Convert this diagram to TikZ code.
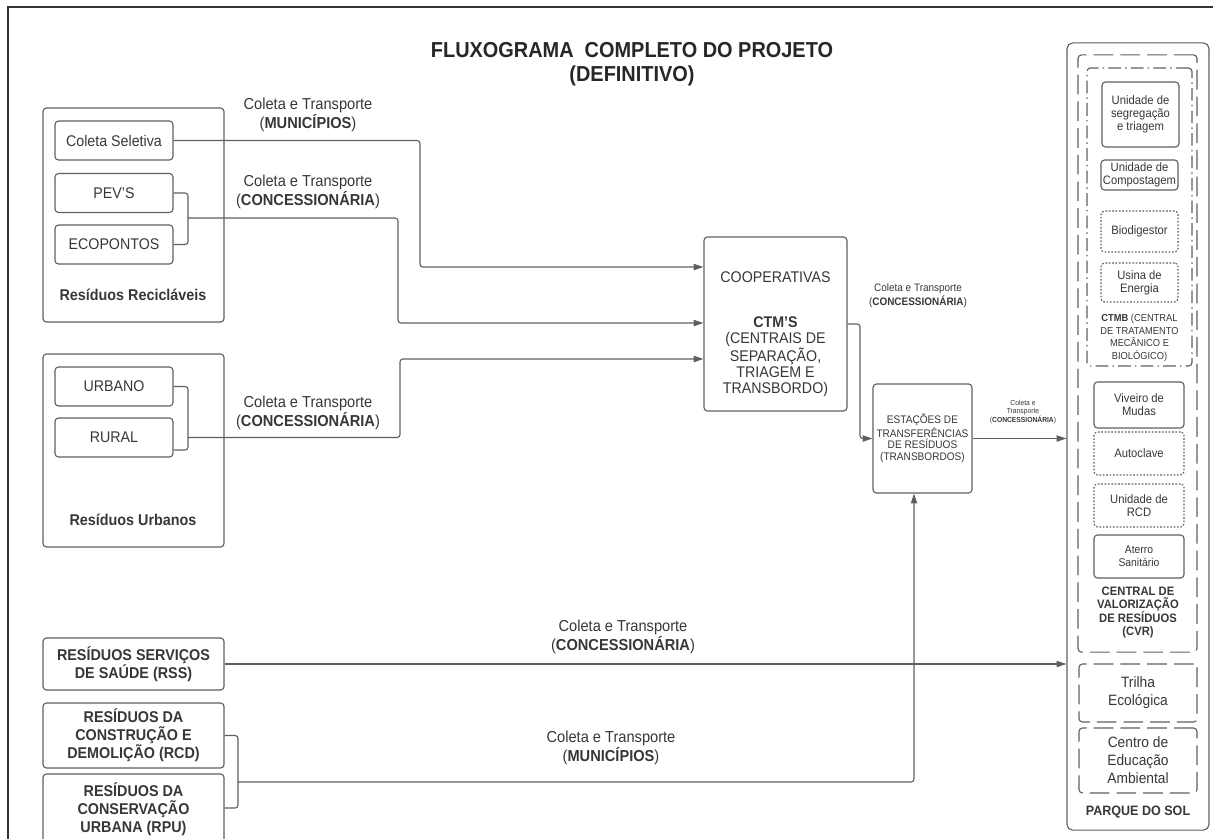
\documentclass[tikz,border=0pt]{standalone}
\usepackage{fontspec}
\setmainfont{Liberation Sans}[FakeStretch=0.92]
\usetikzlibrary{arrows.meta,positioning}
\usepackage{xcolor}
\definecolor{linegray}{RGB}{95,95,95}
\definecolor{txtgray}{RGB}{55,55,55}

\begin{document}
\begin{tikzpicture}[x=0.025cm,y=-0.025cm]
      \tikzstyle{box} = [rectangle, rounded corners=2.5pt, draw=linegray, line width=0.8pt, text=txtgray, align=center, inner sep=1pt]
      \tikzstyle{srcbox} = [box, minimum width=2.95cm, minimum height=0.975cm, font=\fontsize{11}{13}\selectfont]
      \tikzstyle{groupbox} = [box, minimum width=4.525cm]
      \tikzstyle{bigbox} = [box, minimum width=4.525cm, font=\bfseries\fontsize{11.1}{12.8}\selectfont]
      \tikzstyle{unitbox} = [box, minimum width=1.925cm, font=\fontsize{8.7}{9.4}\selectfont]
      \tikzstyle{cvrbox} = [box, minimum width=2.25cm, minimum height=1.075cm, font=\fontsize{8.7}{9.4}\selectfont]
      \tikzstyle{areabox} = [box, minimum width=2.95cm, font=\fontsize{10.65}{12.8}\selectfont]
      \tikzstyle{lbl} = [text=txtgray, align=center, font=\fontsize{11.3}{11.6}\selectfont]
      \tikzstyle{dashbox} = [dash pattern=on 14pt off 5pt]
      \tikzstyle{dashdotbox} = [dash pattern=on 9pt off 3pt on 1pt off 3pt]
      \tikzstyle{dotbox} = [dash pattern=on 1.2pt off 1.2pt]
      \tikzstyle{wire} = [draw=linegray, line width=0.8pt, rounded corners=2pt]
      \tikzstyle{flow} = [wire, -{Triangle[length=7pt,width=4.5pt]}]

      \useasboundingbox (0,0) rectangle (1213,838);
      \draw[line width=1.5pt, black!80] (8,850) -- (8,7) -- (1220,7);

      \node[text=black!85, align=center, font=\bfseries\fontsize{15.4}{17}\selectfont] (title) at (632,64)
        {FLUXOGRAMA\ \ COMPLETO DO PROJETO\\(DEFINITIVO)};

      % residuos reciclaveis
      \node[groupbox, minimum height=5.35cm] (recic) at (133.5,215) {};
      \node[srcbox] (cs) at (114,140.5) {Coleta Seletiva};
      \node[srcbox] (pev) at (114,193) {PEV'S};
      \node[srcbox] (eco) at (114,244.5) {ECOPONTOS};
      \node[text=txtgray, font=\bfseries\fontsize{11.1}{13}\selectfont] (recic-lbl) at (133,295) {Resíduos Recicláveis};

      % residuos urbanos
      \node[groupbox, minimum height=4.825cm] (urbs) at (133.5,450.5) {};
      \node[srcbox] (urb) at (114,386.5) {URBANO};
      \node[srcbox] (rur) at (114,437.5) {RURAL};
      \node[text=txtgray, font=\bfseries\fontsize{11.1}{13}\selectfont] (urbs-lbl) at (133,520) {Resíduos Urbanos};

      \node[bigbox, minimum height=1.3cm] (rss) at (133.5,664) {RESÍDUOS SERVIÇOS\\DE SAÚDE (RSS)};
      \node[bigbox, minimum height=1.625cm] (rcd) at (133.5,735.5) {RESÍDUOS DA\\CONSTRUÇÃO E\\DEMOLIÇÃO (RCD)};
      \node[bigbox, minimum height=1.775cm] (rpu) at (133.5,809.5) {RESÍDUOS DA\\CONSERVAÇÃO\\URBANA (RPU)};

      % centro
      \node[box, minimum width=3.575cm, minimum height=4.35cm] (coop) at (775.5,324) {};
      \node[text=txtgray, align=center, font=\fontsize{11}{11.2}\selectfont] (coop-txt) at (775.5,334)
        {COOPERATIVAS\\[21pt]\textbf{CTM'S}\\(CENTRAIS DE\\SEPARAÇÃO,\\TRIAGEM E\\TRANSBORDO)};
      \node[box, minimum width=2.475cm, minimum height=2.725cm, font=\fontsize{7.8}{8.3}\selectfont] (est) at (922.5,438.5)
        {ESTAÇÕES DE\\TRANSFERÊNCIAS\\DE RESÍDUOS\\(TRANSBORDOS)};

      % parque do sol
      \node[box, rounded corners=4pt, minimum width=3.55cm, minimum height=19.675cm] (parque) at (1138,436.5) {};
      \node[box, dashbox, minimum width=2.975cm, minimum height=14.925cm] (cvr) at (1137.5,353.5) {};
      \node[box, dashdotbox, minimum width=2.625cm, minimum height=7.45cm] (ctmb) at (1139.5,217) {};
      \node[unitbox, minimum height=1.625cm] (segr) at (1140.5,114.5) {Unidade de\\segregação\\e triagem};
      \node[unitbox, minimum height=0.75cm] (comp) at (1139.5,175) {Unidade de\\Compostagem};
      \node[unitbox, dotbox, minimum height=1.025cm] (biod) at (1139.5,231.5) {Biodigestor};
      \node[unitbox, dotbox, minimum height=0.975cm] (usina) at (1139.5,282.5) {Usina de\\Energia};
      \node[text=txtgray, align=center, font=\fontsize{7.2}{8.9}\selectfont] (ctmb-lbl) at (1139.5,338)
        {\textbf{CTMB} (CENTRAL\\DE TRATAMENTO\\MECÂNICO E\\BIOLÓGICO)};
      \node[cvrbox, minimum height=1.15cm] (viv) at (1139,405) {Viveiro de\\Mudas};
      \node[cvrbox, dotbox] (auto) at (1139,453.5) {Autoclave};
      \node[cvrbox, dotbox] (urcd) at (1139,505.5) {Unidade de\\RCD};
      \node[cvrbox, font=\fontsize{8}{9.4}\selectfont] (aterro) at (1139,556.5) {Aterro\\Sanitário};
      \node[text=txtgray, align=center, font=\bfseries\fontsize{8.7}{9.2}\selectfont] (cvr-lbl) at (1138,612.5)
        {CENTRAL DE\\VALORIZAÇÃO\\DE RESÍDUOS\\(CVR)};
      \node[areabox, dashbox, minimum height=1.45cm] (trilha) at (1138,693) {Trilha\\Ecológica};
      \node[areabox, dashbox, minimum height=1.625cm] (centro) at (1138,760.5) {Centro de\\Educação\\Ambiental};
      \node[text=txtgray, font=\bfseries\fontsize{9.7}{11}\selectfont] (parque-lbl) at (1138,812) {PARQUE DO SOL};

      % rotulos
      \node[lbl] (l-mun1) at (308,115) {Coleta e Transporte\\(\textbf{MUNICÍPIOS})};
      \node[lbl] (l-con1) at (308,192) {Coleta e Transporte\\(\textbf{CONCESSIONÁRIA})};
      \node[lbl] (l-con2) at (308,413) {Coleta e Transporte\\(\textbf{CONCESSIONÁRIA})};
      \node[lbl] (l-con3) at (623,637) {Coleta e Transporte\\(\textbf{CONCESSIONÁRIA})};
      \node[lbl] (l-mun2) at (611,748) {Coleta e Transporte\\(\textbf{MUNICÍPIOS})};
      \node[lbl, font=\fontsize{7.7}{10}\selectfont] (l-con4) at (918,296) {Coleta e Transporte\\(\textbf{CONCESSIONÁRIA})};
      \node[lbl, font=\fontsize{5.2}{6}\selectfont] (l-con5) at (1023,412) {Coleta e\\Transporte\\(\textbf{CONCESSIONÁRIA})};

      % ligacoes
      \coordinate (k1) at (420,267);
      \draw[flow] (cs.east) -| (k1) -- (k1 -| coop.west);
      \coordinate (k2) at (188,218);
      \draw[wire] (pev.east) -| (k2) |- (eco.east);
      \coordinate (k3) at (398,323);
      \draw[flow] (k2) -| (k3) -- (k3 -| coop.west);
      \coordinate (k4) at (188,450);
      \draw[wire] (urb.east) -| (k4) -- (k4 -| rur.east);
      \coordinate (k5) at (188,437.5);
      \coordinate (k6) at (400,359);
      \draw[flow] (k5) -| (k6) -- (k6 -| coop.west);
      \coordinate (k7) at (860,438.5);
      \draw[flow] (coop.east) -| (k7) -- (est.west);
      \draw[flow] (est.east) -- (est.east -| parque.west);
      \draw[flow] (rss.east) -- (rss.east -| parque.west);
      \coordinate (k8) at (238,808);
      \draw[wire] (rcd.east) -| (k8) -- (k8 -| rpu.east);
      \coordinate (k9) at (238,782);
      \coordinate (k10) at (914,782);
      \draw[flow] (k9) -- (k10) -- (k10 |- est.south);
    \end{tikzpicture}
\end{document}
